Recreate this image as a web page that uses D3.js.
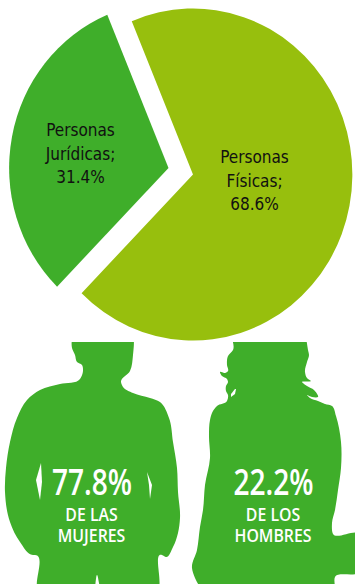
<!DOCTYPE html>
<html lang="es">
<head>
<meta charset="utf-8">
<title>Personas</title>
<script src="https://cdn.jsdelivr.net/npm/d3@7"></script>
<style>
html, body { margin: 0; padding: 0; background: #fff; }
svg { display: block; }
text { text-anchor: middle; }
.pie-label { font-family: "DejaVu Sans", sans-serif; font-stretch: condensed; font-size: 17px; fill: #111; }
.fig-label { font-family: "Open Sans", sans-serif; fill: #fff; }
</style>
</head>
<body>
<script>
// pie data
var categories = ["Personas Físicas", "Personas Jurídicas"];
var shares = [68.6, 31.4];
var shareLabels = ["68.6%", "31.4%"];
var pieColors = ["#97bf0d", "#3fae2a"];

// figures
var figureValues = ["77.8%", "22.2%"];
var figureLines = [["DE LAS", "MUJERES"], ["DE LOS", "HOMBRES"]];

// silhouettes, in page pixels
var manOutline = [[73,335],[72,348],[75,355],[77,362],[82,365],[83,371],[80,379],[60,384],[40,390],[27,400],[17,418],[10,442],[6,468],[5,492],[10,522],[20,542],[33,555],[35,555],[38,590],[94,590],[97,575],[101,590],[158,590],[162,555],[166,557],[173,547],[178,533],[180,518],[178,492],[177,468],[173,442],[169,418],[160,402],[150,398],[133,393],[123,387],[121,382],[130,371],[133,355],[133,335]];
var manSlitL = [[41,463],[36,480],[40,500],[42,482]];
var manSlitR = [[147,472],[149,485],[150,499],[152,485]];
var womanOutline = [[232,335],[233,350],[228,356],[227,365],[228,371],[225,373],[220,372],[222,376],[227,379],[228,382],[226,386],[226,391],[228,395],[227,401],[217,406],[212,413],[210,420],[209,435],[210,458],[205,485],[203,510],[200,527],[197,550],[192,568],[195,578],[202,590],[335,590],[335,577],[358,573],[358,533],[333,534],[332,523],[335,510],[338,490],[341,468],[341,442],[339,428],[336,416],[332,406],[325,404],[318,401],[310,398],[307,395],[312,397],[318,397],[314,390],[307,386],[302,382],[311,381],[307,378],[305,372],[307,362],[309,355],[308,350],[305,335]];
var womanCurl = [[231,394],[235,389],[236,389],[235,394],[231,397]];

var w = 355;
var h = 584;

var svg = d3.select("body").append("svg")
	.attr("width", w)
	.attr("height", h);

//Pie
var rot = -22.6 * Math.PI / 180;
var radius = 166;
var squeeze = 0.96;
var pie = d3.pie().sort(null).startAngle(rot).endAngle(rot + 2 * Math.PI);
var arc = d3.arc().innerRadius(0).outerRadius(radius);
var apex = [[193, 174.5], [168.5, 168]];
var labelAt = [[254.5, 163], [80.5, 136]];
var labelLines = [["Personas", "Físicas;"], ["Personas", "Jurídicas;"]];

svg.selectAll("path.slice")
	.data(pie(shares))
	.enter()
	.append("path")
	.attr("class", "slice")
	.attr("d", arc)
	.attr("fill", function(d, i) { return pieColors[i]; })
	.attr("transform", function(d, i) {
		return "translate(" + apex[i][0] + "," + apex[i][1] + ") scale(" + squeeze + ",1)";
	});

categories.forEach(function(c, i) {
	var t = svg.append("text").attr("class", "pie-label");
	labelLines[i].concat(shareLabels[i]).forEach(function(s, j) {
		t.append("tspan")
			.attr("x", labelAt[i][0])
			.attr("y", labelAt[i][1] + j * 23.5)
			.text(s);
	});
});

//Silhouettes
var clip = svg.append("clipPath").attr("id", "figs");
clip.append("rect").attr("x", 0).attr("y", 342).attr("width", w).attr("height", h - 342);

var smooth = d3.line().curve(d3.curveCatmullRomClosed.alpha(1));
var straight = d3.line().curve(d3.curveLinearClosed);

var g = svg.append("g").attr("clip-path", "url(#figs)");
g.append("path").attr("d", smooth(manOutline)).attr("fill", pieColors[1]);
g.append("path").attr("d", smooth(womanOutline)).attr("fill", pieColors[1]);
[manSlitL, manSlitR, womanCurl].forEach(function(s) {
	g.append("path").attr("d", straight(s)).attr("fill", "#fff");
});

//Figure labels
var figCenter = [92, 273.5];
function squeezed(x, y, size, weight, sx, s) {
	svg.append("text")
		.attr("class", "fig-label")
		.attr("transform", "translate(" + x + "," + y + ") scale(" + sx + ",1)")
		.attr("font-size", size)
		.attr("font-weight", weight)
		.text(s);
}
figureValues.forEach(function(v, i) {
	squeezed(figCenter[i], 495, 36, 600, 0.78, v);
	figureLines[i].forEach(function(s, j) {
		squeezed(figCenter[i] - 0.5, 521 + j * 21, 18, 600, 0.88, s);
	});
});
</script>
</body>
</html>
